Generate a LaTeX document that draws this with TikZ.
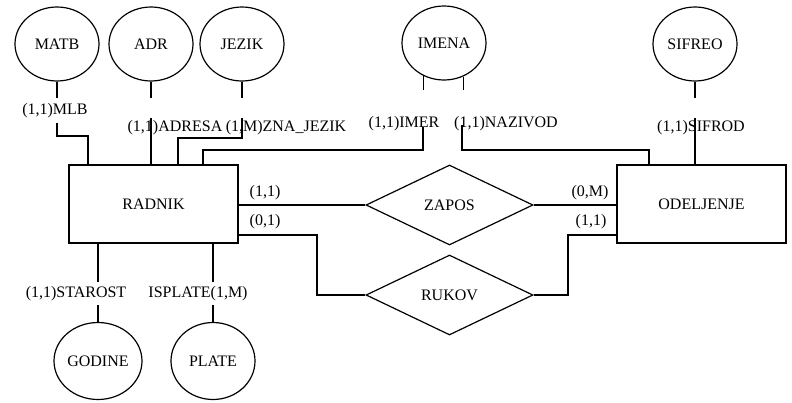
\documentclass[tikz,border=0pt]{standalone}
\usepackage{fontspec}
\setmainfont{Liberation Serif}[Scale=1.0]
\usetikzlibrary{shapes.geometric}

\tikzset{
  attr/.style={draw, ellipse, line width=1.2pt, minimum width=84pt, minimum height=74pt, inner sep=0pt},
  entity/.style={draw, rectangle, line width=1.2pt, minimum width=169pt, minimum height=78pt},
  rel/.style={draw, diamond, line width=1.2pt, minimum width=167pt, minimum height=80pt, inner sep=0pt},
  card/.style={inner sep=1pt}
}

\begin{document}
\begin{tikzpicture}[x=1pt, y=-1pt, line width=1.2pt, font=\rmfamily\fontsize{16}{18}\selectfont]
            \useasboundingbox (0,0) rectangle (792,402);

            % Entiteti
            \node[entity] (radnik) at (153.5,204) {RADNIK};
            \node[entity] (odeljenje) at (701.5,204) {ODELJENJE};

            % Veze
            \node[rel] (zapos) at (449.5,205) {ZAPOS};
            \node[rel] (rukov) at (449.5,295) {RUKOV};

            % Domeni (atributi)
            \node[attr] (matb) at (57,44) {MATB};
            \node[attr] (adr) at (151,44) {ADR};
            \node[attr] (jezik) at (242,44) {JEZIK};
            \node[attr] (imena) at (444,43) {IMENA};
            \node[attr] (sifreo) at (695,44) {SIFREO};
            \node[attr, minimum width=88pt, minimum height=77pt] (godine) at (98,361) {GODINE};
            \node[attr, minimum height=77pt] (plate) at (213,361) {PLATE};

            % ZAPOS
            \draw (radnik.east |- zapos.west) -- (zapos.west);
            \draw (zapos.east) -- (zapos.east -| odeljenje.west);
            \node[card] (zapos-r) at (265,193) {(1,1)};
            \node[card] (zapos-o) at (590,193) {(0,M)};

            % RUKOV
            \coordinate (rk1) at (317,235);
            \coordinate (rk2) at (568,235);
            \draw (radnik.east |- rk1) -- (rk1) |- (rukov.west);
            \draw (rukov.east) -| (rk2) -- (rk2 -| odeljenje.west);
            \node[card] (rukov-r) at (265,222) {(0,1)};
            \node[card] (rukov-o) at (591,222) {(1,1)};

            % MLB
            \draw (matb.south) -- ++(0,16);
            \node[card] (mlb) at (55,111) {(1,1)MLB};
            \draw (57,123) -- (57,136) -| (88,0 |- radnik.north);

            % ADRESA
            \draw (adr.south) -- ++(0,16);
            \node[card] (adresa) at (175,128) {(1,1)ADRESA};
            \draw (151,118) -- (151,0 |- radnik.north);

            % ZNA_JEZIK
            \draw (jezik.south) -- ++(0,16);
            \node[card] (znajezik) at (286,128) {(1,M)ZNA\_JEZIK};
            \draw (242,118) -- (242,138) -| (178,0 |- radnik.north);

            % IMER i NAZIVOD
            \draw (imena.-122) -- (imena.-122 |- 0,90);
            \draw (imena.-60) -- (imena.-60 |- 0,90);
            \node[card] (imer) at (404,124) {(1,1)IMER};
            \node[card] (nazivod) at (506,124) {(1,1)NAZIVOD};
            \draw (423,127) -- (423,150) -| (203,0 |- radnik.north);
            \draw (462,125) -- (462,150) -| (649,0 |- odeljenje.north);

            % SIFROD
            \draw (sifreo.south) -- ++(0,16);
            \node[card] (sifrod) at (701,128) {(1,1)SIFROD};
            \draw (695,118) -- (695,0 |- odeljenje.north);

            % STAROST i ISPLATE
            \draw (98,0 |- radnik.south) -- (98,282);
            \node[card] (starost) at (76,294) {(1,1)STAROST};
            \draw (98,305) -- (godine.north);
            \draw (213,0 |- radnik.south) -- (213,282);
            \node[card] (isplate) at (198,294) {ISPLATE(1,M)};
            \draw (213,305) -- (plate.north);
\end{tikzpicture}
\end{document}
